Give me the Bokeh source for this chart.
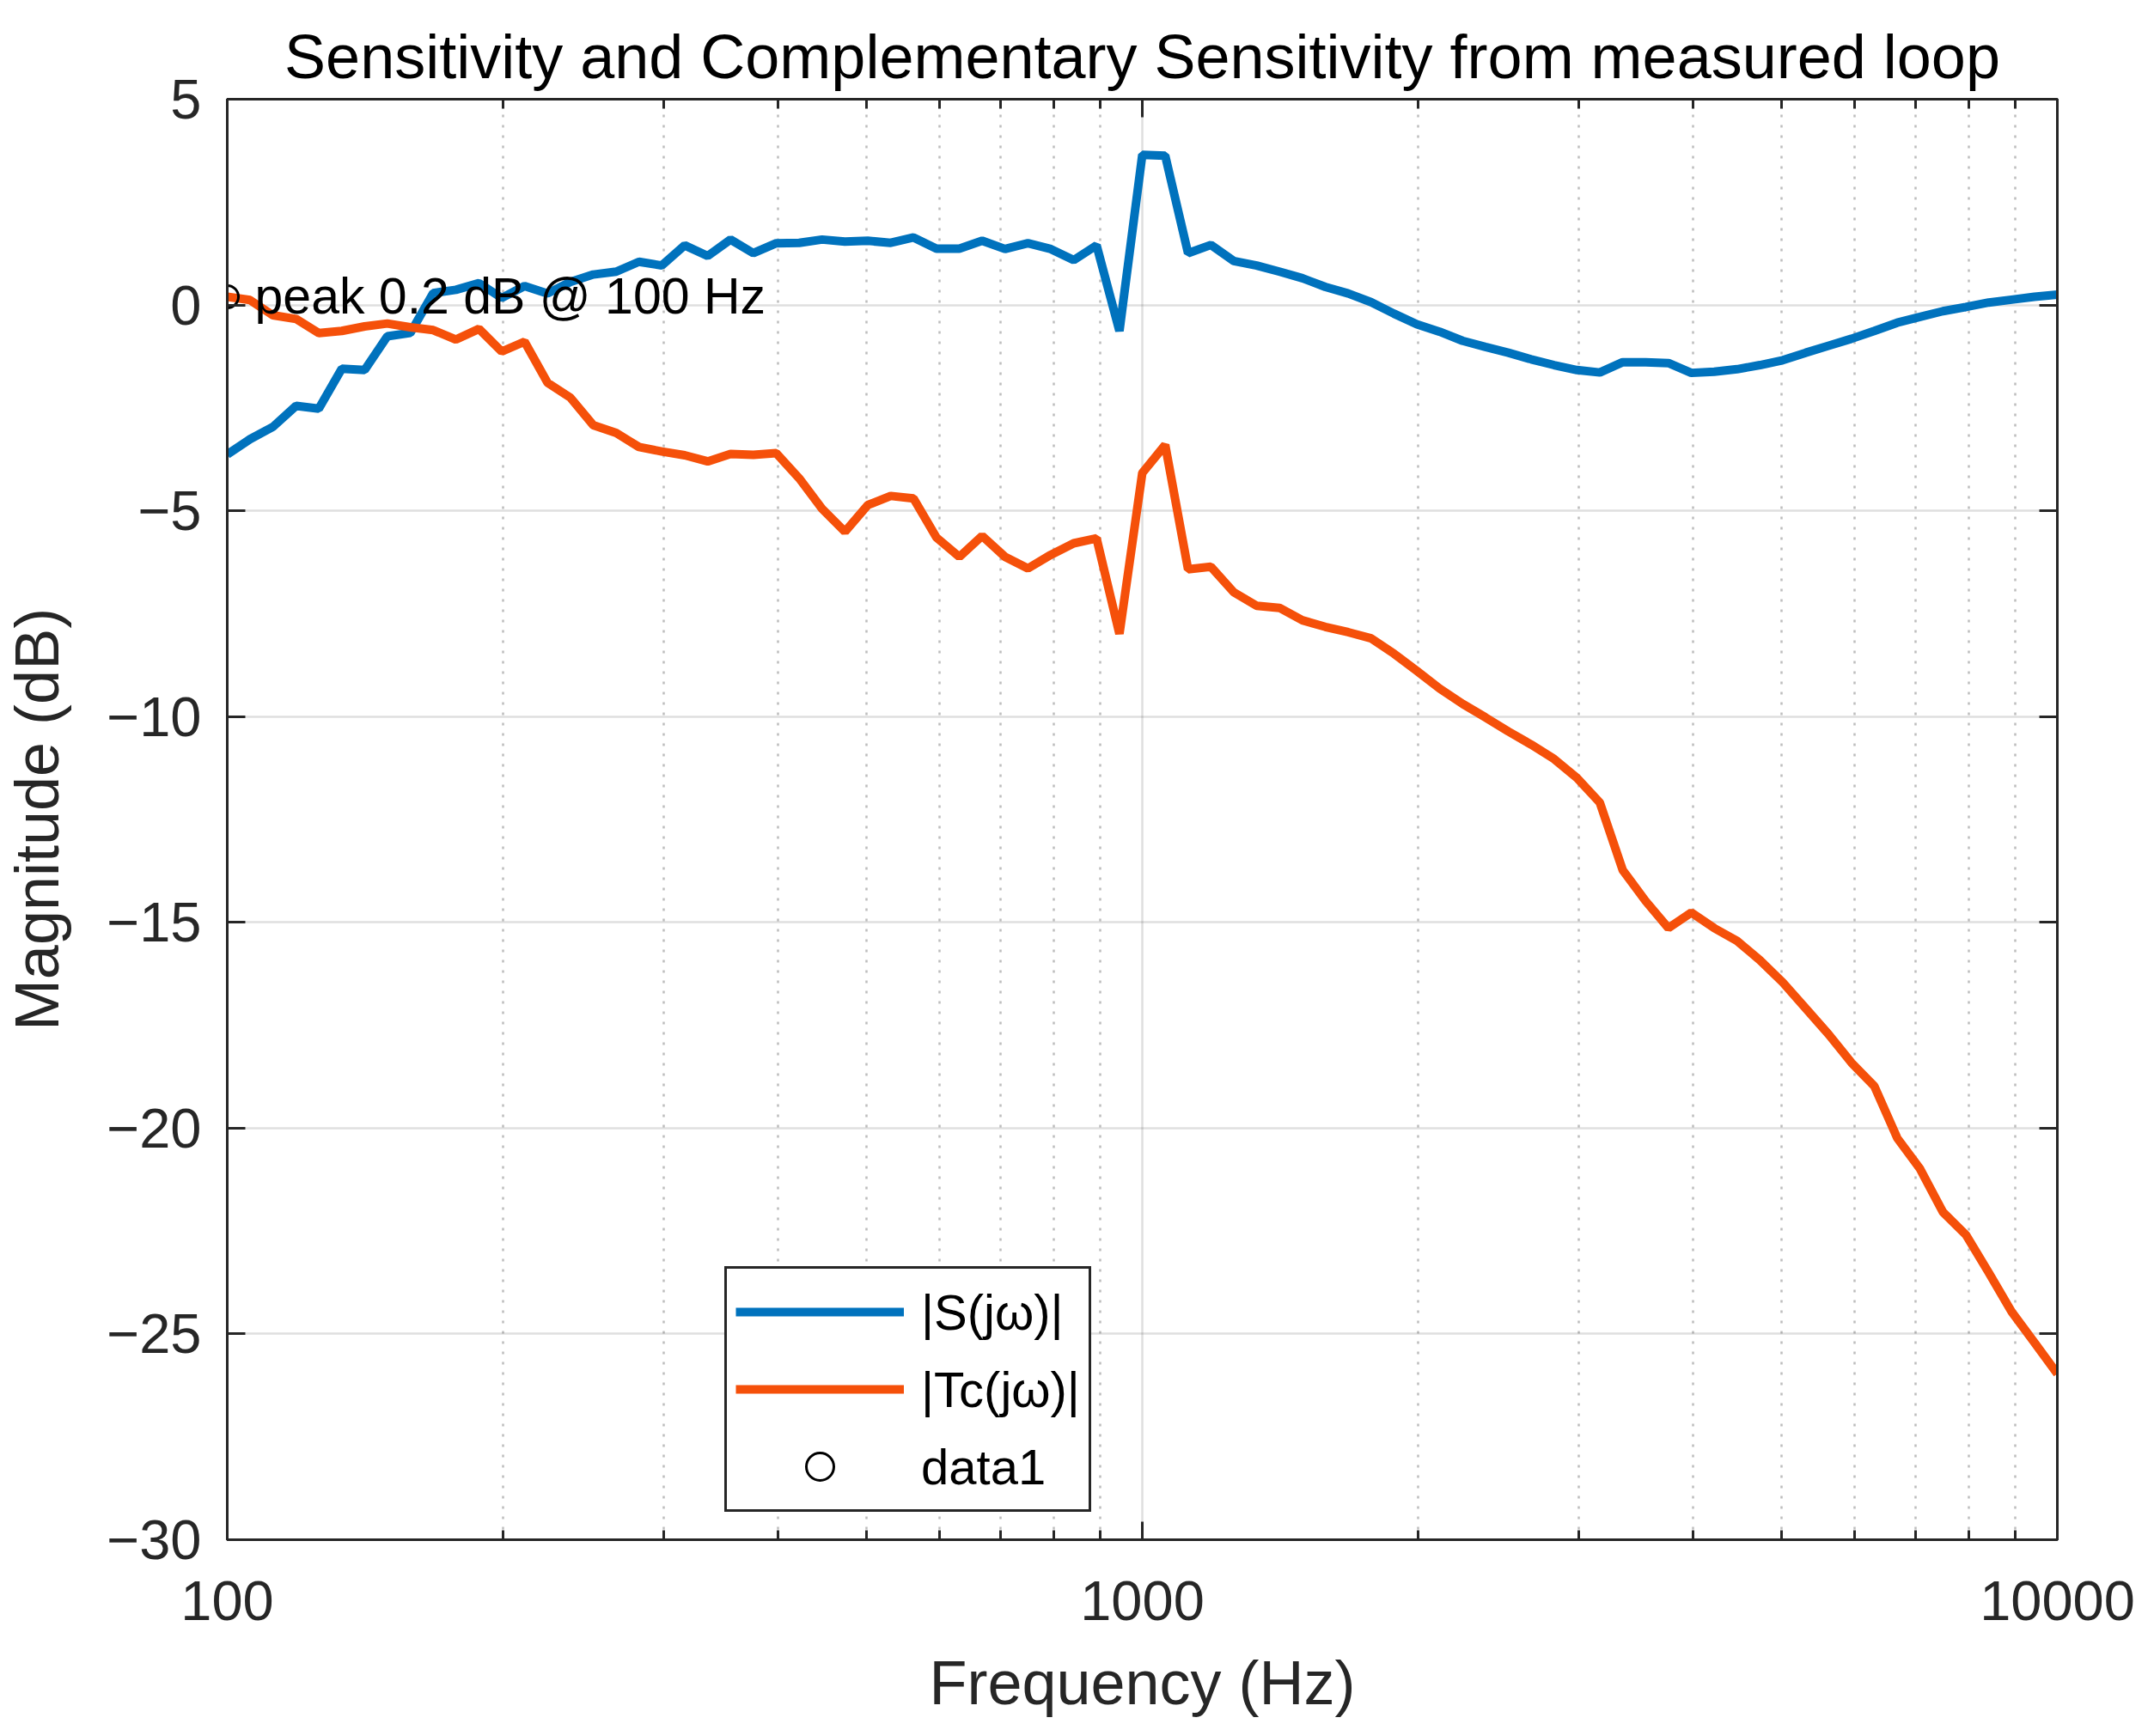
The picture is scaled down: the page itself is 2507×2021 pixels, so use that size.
from bokeh.embed import file_html
from bokeh.models import (ColumnDataSource, CustomJSTickFormatter, FixedTicker, Label, Legend,
                          LegendItem, LinearAxis, LogAxis, NumeralTickFormatter, Range1d)
from bokeh.plotting import figure
from bokeh.resources import INLINE

# measured loop, 81 log-spaced frequency points
freq_hz = [100.0, 105.9, 112.2, 118.9, 125.9, 133.4, 141.3, 149.6, 158.5, 167.9,
           177.8, 188.4, 199.5, 211.3, 223.9, 237.1, 251.2, 266.1, 281.8, 298.5,
           316.2, 335.0, 354.8, 375.8, 398.1, 421.7, 446.7, 473.2, 501.2, 530.9,
           562.3, 595.7, 631.0, 668.3, 707.9, 749.9, 794.3, 841.4, 891.3, 944.1,
           1000.0, 1059.3, 1122.0, 1188.5, 1258.9, 1333.5, 1412.5, 1496.2, 1584.9, 1678.8,
           1778.3, 1883.6, 1995.3, 2113.5, 2238.7, 2371.4, 2511.9, 2660.7, 2818.4, 2985.4,
           3162.3, 3349.7, 3548.1, 3758.4, 3981.1, 4217.0, 4466.8, 4731.5, 5011.9, 5308.8,
           5623.4, 5956.6, 6309.6, 6683.4, 7079.5, 7498.9, 7943.3, 8414.0, 8912.5, 9440.6,
           10000.0]

s_db = [-3.63, -3.26, -2.96, -2.45, -2.52, -1.55, -1.58, -0.76, -0.68, 0.29,
        0.37, 0.53, 0.17, 0.46, 0.28, 0.56, 0.74, 0.81, 1.05, 0.96,
        1.45, 1.19, 1.59, 1.26, 1.50, 1.51, 1.59, 1.54, 1.56, 1.51,
        1.64, 1.37, 1.37, 1.56, 1.36, 1.50, 1.36, 1.09, 1.45, -0.63,
        3.65, 3.63, 1.26, 1.46, 1.07, 0.96, 0.81, 0.65, 0.44, 0.28,
        0.07, -0.21, -0.47, -0.65, -0.87, -1.02, -1.16, -1.32, -1.46, -1.58,
        -1.64, -1.39, -1.39, -1.41, -1.65, -1.62, -1.56, -1.46, -1.34, -1.16,
        -0.99, -0.82, -0.63, -0.43, -0.29, -0.15, -0.05, 0.06, 0.13, 0.20,
        0.25]

t_db = [0.20, 0.12, -0.25, -0.34, -0.68, -0.63, -0.52, -0.45, -0.54, -0.61,
        -0.84, -0.58, -1.13, -0.89, -1.89, -2.25, -2.92, -3.11, -3.45, -3.56,
        -3.65, -3.80, -3.62, -3.64, -3.60, -4.21, -4.95, -5.51, -4.86, -4.64,
        -4.70, -5.65, -6.12, -5.61, -6.12, -6.40, -6.07, -5.79, -5.67, -7.99,
        -4.08, -3.40, -6.42, -6.36, -6.98, -7.31, -7.36, -7.66, -7.82, -7.95,
        -8.10, -8.47, -8.89, -9.32, -9.69, -10.02, -10.36, -10.68, -11.03, -11.49,
        -12.09, -13.73, -14.48, -15.14, -14.76, -15.14, -15.45, -15.92, -16.46, -17.09,
        -17.72, -18.41, -18.98, -20.24, -20.99, -22.04, -22.59, -23.51, -24.46, -25.21,
        -25.97]

peak_freq = [100.0]
peak_db = [0.2]

x_major = [100, 1000, 10000]
x_minor = [200, 300, 400, 500, 600, 700, 800, 900,
           2000, 3000, 4000, 5000, 6000, 7000, 8000, 9000]
y_ticks = [-30, -25, -20, -15, -10, -5, 0, 5]
y_labels = {t: str(t).replace("-", "\u2212") for t in y_ticks}

FONT = "Liberation Sans"
AX = "#262626"

source = ColumnDataSource(data={"freq": freq_hz, "s": s_db, "t": t_db})

p = figure(
    width=2491,
    height=2005,
    x_axis_type="log",
    x_range=Range1d(100, 10000),
    y_range=Range1d(-30, 5),
    title="Sensitivity and Complementary Sensitivity from measured loop",
    toolbar_location=None,
    output_backend="svg",
    min_border_left=256,
    min_border_right=97,
    min_border_top=115,
    min_border_bottom=213,
)

s_line = p.line("freq", "s", source=source, line_color="#0072BD", line_width=10)
t_line = p.line("freq", "t", source=source, line_color="#F5500A", line_width=10)
peak = p.scatter(peak_freq, peak_db, marker="circle", size=26, fill_color=None,
                 line_color="black", line_width=3)

p.add_layout(Label(x=peak_freq[0], y=peak_db[0], x_offset=32, text="peak 0.2 dB @ 100 Hz",
                   text_font=FONT, text_font_size="59px", text_baseline="middle",
                   text_color="black"))

x_ticker = FixedTicker(ticks=x_major, minor_ticks=x_minor)
y_ticker = FixedTicker(ticks=y_ticks)

bottom = p.xaxis[0]
left = p.yaxis[0]
bottom.ticker = x_ticker
bottom.formatter = NumeralTickFormatter(format="0")
left.ticker = y_ticker
left.major_label_overrides = y_labels

# tick marks only on the top and right edges
blank = CustomJSTickFormatter(code="return ''")
top = LogAxis(ticker=x_ticker, formatter=blank)
right = LinearAxis(ticker=y_ticker, formatter=blank)
p.add_layout(top, "above")
p.add_layout(right, "right")

for ax in [bottom, left, top, right]:
    ax.axis_line_color = AX
    ax.axis_line_width = 3
    ax.major_tick_line_color = AX
    ax.major_tick_line_width = 3
    ax.minor_tick_line_color = AX
    ax.minor_tick_line_width = 3
    ax.major_tick_in = 21
    ax.major_tick_out = 0
    ax.minor_tick_in = 11
    ax.minor_tick_out = 0
    ax.major_label_text_font = FONT
    ax.major_label_text_font_size = "65px"
    ax.major_label_text_color = AX
    ax.axis_label_text_font = FONT
    ax.axis_label_text_font_size = "72px"
    ax.axis_label_text_font_style = "normal"
    ax.axis_label_text_color = AX

for ax in [top, right]:
    ax.major_label_text_font_size = "1px"
    ax.major_label_standoff = 0

bottom.axis_label = "Frequency (Hz)"
bottom.major_label_standoff = 48
bottom.axis_label_standoff = 30
left.axis_label = "Magnitude (dB)"
left.major_label_standoff = 30
left.axis_label_standoff = 38

p.xgrid.grid_line_color = AX
p.xgrid.grid_line_alpha = 0.15
p.xgrid.grid_line_width = 2.5
p.xgrid.minor_grid_line_color = AX
p.xgrid.minor_grid_line_alpha = 0.3
p.xgrid.minor_grid_line_width = 2.5
p.xgrid.minor_grid_line_dash = "3 9"
p.ygrid.grid_line_color = AX
p.ygrid.grid_line_alpha = 0.15
p.ygrid.grid_line_width = 2.5

p.outline_line_color = AX
p.outline_line_width = 3
p.outline_line_alpha = 1.0

p.title.text_font = FONT
p.title.text_font_size = "72px"
p.title.text_font_style = "normal"
p.title.text_color = "black"
p.title.align = "center"
p.title.standoff = 20

legend = Legend(
    items=[
        LegendItem(label="|S(j\u03c9)|", renderers=[s_line]),
        LegendItem(label="|Tc(j\u03c9)|", renderers=[t_line]),
        LegendItem(label="data1", renderers=[peak]),
    ],
    location=(579, 32),
    label_text_font=FONT,
    label_text_font_size="58px",
    label_text_color="black",
    glyph_width=196,
    glyph_height=80,
    label_height=80,
    spacing=10,
    padding=10,
    label_standoff=20,
    border_line_color=AX,
    border_line_width=3,
    border_line_alpha=1.0,
    background_fill_color="white",
    background_fill_alpha=1.0,
)
p.add_layout(legend, "center")

open("out.html", "w").write(file_html(p, INLINE))
